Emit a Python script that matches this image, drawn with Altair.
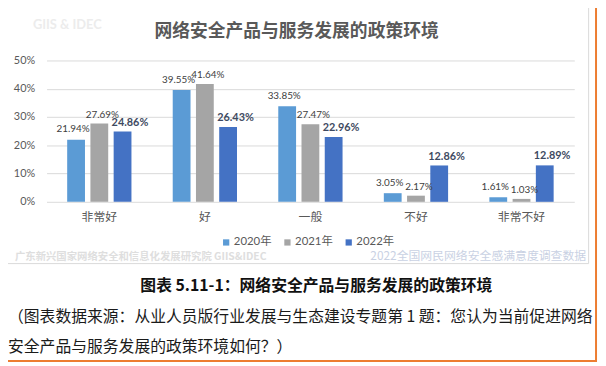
import altair as alt
import pandas as pd

categories = ["非常好", "好", "一般", "不好", "非常不好"]
years = ["2020年", "2021年", "2022年"]
v2020 = [21.94, 39.55, 33.85, 3.05, 1.61]
v2021 = [27.69, 41.64, 27.47, 2.17, 1.03]
v2022 = [24.86, 26.43, 22.96, 12.86, 12.89]
colors = ["#5B9BD5", "#A5A5A5", "#4472C4"]
y_ticks = [0, 10, 20, 30, 40, 50]

chart_title = "网络安全产品与服务发展的政策环境"
caption = "图表 5.11-1：网络安全产品与服务发展的政策环境"
note1 = "（图表数据来源：从业人员版行业发展与生态建设专题第 1 题：您认为当前促进网络"
note2 = "安全产品与服务发展的政策环境如何？）"
wm_top = "GIIS & IDEC"
wm_left = "广东新兴国家网络安全和信息化发展研究院   GIIS&IDEC"
wm_right = "2022全国网民网络安全感满意度调查数据"

rows = []
for yr, vals in zip(years, [v2020, v2021, v2022]):
    for c, v in zip(categories, vals):
        rows.append({"类别": c, "年份": yr, "值": v / 100, "标签": f"{v:.2f}%"})
df = pd.DataFrame(rows)
one = pd.DataFrame({"k": [0]})

NUM_FONT = "Lato, Noto Sans CJK SC"
CJK_FONT = "Noto Sans CJK SC"

x_enc = alt.X(
    "类别:N", sort=categories,
    scale=alt.Scale(paddingInner=0.391, paddingOuter=0.1955),
    axis=alt.Axis(title=None, labelAngle=0, labelFont=CJK_FONT, labelFontSize=12,
                  labelColor="#595959", labelPadding=10, ticks=False, tickSize=0,
                  domain=False, grid=False),
)
xo_enc = alt.XOffset("年份:N", sort=years, scale=alt.Scale(paddingInner=0.234, paddingOuter=0))
y_enc = alt.Y(
    "值:Q", scale=alt.Scale(domain=[0, 0.5], nice=False),
    axis=alt.Axis(title=None, format=".0%", values=[t / 100 for t in y_ticks],
                  labelFont=NUM_FONT, labelFontSize=11, labelColor="#595959",
                  labelPadding=12, ticks=False, tickSize=0, domain=False,
                  grid=True, gridColor="#d9d9d9", gridWidth=1),
)

base = alt.Chart(df)

bars = base.mark_bar().encode(
    x=x_enc, xOffset=xo_enc, y=y_enc,
    color=alt.Color("年份:N", sort=years, scale=alt.Scale(domain=years, range=colors),
                    legend=alt.Legend(title=None, orient="none", legendX=176, legendY=178,
                                      direction="horizontal", symbolType="square",
                                      symbolSize=40, symbolStrokeWidth=0,
                                      labelFont=NUM_FONT, labelFontSize=11.5,
                                      labelColor="#595959", labelOffset=2,
                                      columnPadding=10, padding=0)),
)

label_styles = [
    (years[0], -3, -10.5, "normal", 10, "#404040"),
    (years[1], 3, -9, "normal", 10, "#404040"),
    (years[2], 7.5, -9, "bold", 11, "#3E4A61"),
]
label_layers = []
for yr, dx, dy, fw, fs, col in label_styles:
    label_layers.append(
        base.transform_filter(alt.datum["年份"] == yr)
        .mark_text(dx=dx, dy=dy, baseline="middle", align="center", font=NUM_FONT,
                   fontSize=fs, fontWeight=fw, color=col)
        .encode(x=x_enc, xOffset=xo_enc, y=y_enc, text="标签:N")
    )

def note(text, x, y, size, color, weight="normal", align="left", font=CJK_FONT):
    return alt.Chart(one).mark_text(
        text=text, align=align, baseline="middle", fontSize=size, color=color,
        fontWeight=weight, font=font,
    ).encode(x=alt.value(x), y=alt.value(y))

gray_box = alt.Chart(one).mark_rect(fillOpacity=0, stroke="#d9d9d9", strokeWidth=1).encode(
    x=alt.value(-41), x2=alt.value(548.5), y=alt.value(-56), y2=alt.value(205.5))
orange_box = alt.Chart(one).mark_rect(fillOpacity=0, stroke="#ED7D31", strokeWidth=2).encode(
    x=alt.value(-46), x2=alt.value(556), y=alt.value(-60), y2=alt.value(304))

layers = [
    gray_box, orange_box,
    note(wm_top, 21, -36, 13, "#ececec", "bold", "center", NUM_FONT),
    note(chart_title, 253, -29, 18, "#595959", "bold", "center"),
    bars, *label_layers,
    note(wm_left, -32, 199, 10.5, "#dedede", "bold"),
    note(wm_right, 546, 198, 12, "#c9d1e3", "normal", "right"),
    note(caption, 273, 228, 16, "#111111", "bold", "center"),
    note(note1, -39, 260, 16, "#1a1a1a"),
    note(note2, -39, 290, 16, "#1a1a1a"),
]

chart = alt.layer(*layers).properties(
    width=534, height=143,
    padding={"left": 39, "top": 51, "right": 24, "bottom": 162},
    autosize=alt.AutoSizeParams(type="none"),
    background="white",
).configure_view(stroke=None)

chart.save("out.html", embed_options={"renderer": "svg", "actions": False})
